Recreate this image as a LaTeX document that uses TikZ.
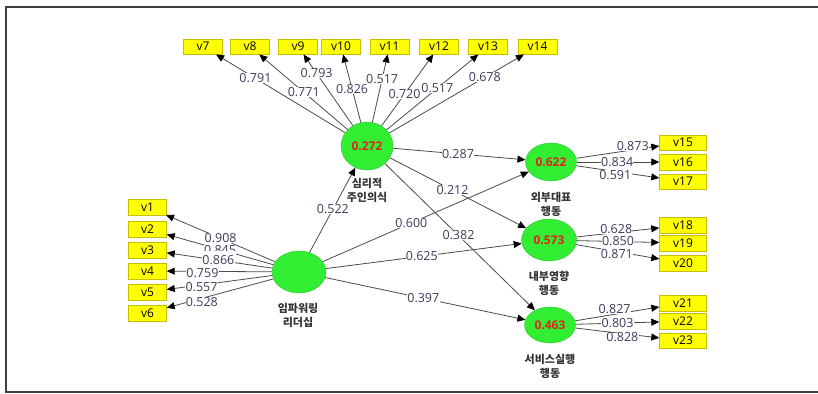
\documentclass[tikz,border=0pt]{standalone}
\usepackage{fontspec}
\setmainfont{Open Sans}
\newfontfamily\krfont{Noto Sans CJK KR}
\usetikzlibrary{arrows.meta,shapes.geometric}
\definecolor{latgreen}{RGB}{50,238,50}
\definecolor{latedge}{RGB}{40,200,40}
\definecolor{indyellow}{RGB}{255,255,0}
\definecolor{indedge}{RGB}{200,190,0}
\definecolor{wtext}{RGB}{60,60,90}
\definecolor{rtext}{RGB}{225,35,30}
\definecolor{pathgray}{RGB}{75,75,75}
\begin{document}
\begin{tikzpicture}[x=1pt, y=-1pt,
  latent/.style={ellipse, draw=latedge, fill=latgreen, inner sep=0, text=rtext, font=\bfseries\fontsize{12}{13}\selectfont},
  ind/.style={rectangle, draw=indedge, fill=indyellow, inner sep=0, minimum height=15.5, font=\fontsize{12}{13}\selectfont},
  wt/.style={fill=white, inner sep=0.3, text=wtext, font=\fontsize{12.5}{13}\selectfont},
  lname/.style={align=center, text=black!80, font=\krfont\bfseries\fontsize{11}{14}\selectfont},
  arr/.style={draw=pathgray, line width=0.8, -{Triangle[length=8,width=7,color=black]}}]
\useasboundingbox (0,0) rectangle (818,393);
\draw[line width=1.8, black!75] (818,7) -- (6,7) -- (6,392) -- (818,392);

% latent variables
\node[latent, minimum width=52, minimum height=48] (pso) at (367,146) {0.272};
\node[latent, minimum width=54, minimum height=42] (emp) at (299,272) {};
\node[latent, minimum width=51, minimum height=38] (ext) at (551,162) {0.622};
\node[latent, minimum width=55, minimum height=42] (intl) at (549,240) {0.573};
\node[latent, minimum width=51, minimum height=36] (svc) at (550,325) {0.463};

\node[lname] (psoname) at (367,190) {심리적\\주인의식};
\node[lname] (empname) at (298,315) {임파워링\\리더십};
\node[lname] (extname) at (551,204) {외부대표\\행동};
\node[lname] (intlname) at (549,283) {내부영향\\행동};
\node[lname] (svcname) at (550,366) {서비스실행\\행동};

% indicators
\foreach \i/\x in {7/203,8/250,9/298,10/341,11/389.5,12/439,13/488,14/537.5}
  \node[ind, minimum width=39] (v\i) at (\x,46.5) {v\i};
\foreach \i/\y in {1/207,2/229,3/250,4/271,5/292,6/313}
  \node[ind, minimum width=38] (v\i) at (147.5,\y) {v\i};
\foreach \i/\y in {15/142.5,16/162,17/181.5,18/225.3,19/243,20/263,21/303,22/321.3,23/340.7}
  \node[ind, minimum width=47] (v\i) at (683,\y) {v\i};

% outer loadings
\foreach \i/\p/\w in {7/0.695/0.791,8/0.498/0.771,9/0.735/0.793,10/0.49/0.826,11/0.635/0.517,12/0.444/0.720,13/0.553/0.517,14/0.71/0.678}
  \draw[arr] (pso) -- node[wt, pos=\p] {\w} (v\i);
\foreach \i/\p/\w in {1/0.50/0.908,2/0.50/0.845}
  \draw[arr] (emp) -- node[wt, pos=\p] {\w} (v\i);
\draw[arr] (emp) -- node[wt, pos=0.51, inner ysep=4.5] {0.866} (v3);
\foreach \i/\p/\w/\s in {4/0.66/0.759/-1.5,5/0.67/0.557/-2.5,6/0.67/0.528/-4}
  \draw[arr] (emp) -- node[wt, pos=\p, yshift=\s] {\w} (v\i);
\foreach \i/\p/\w/\s in {15/0.68/0.873/4,16/0.49/0.834/0,17/0.47/0.591/-3.5}
  \draw[arr] (ext) -- node[wt, pos=\p, yshift=\s] {\w} (v\i);
\foreach \i/\p/\w/\s in {18/0.48/0.628/4,19/0.50/0.850/0,20/0.49/0.871/-2}
  \draw[arr] (intl) -- node[wt, pos=\p, yshift=\s] {\w} (v\i);
\foreach \i/\p/\w/\s in {21/0.47/0.827/5,22/0.50/0.803/0,23/0.56/0.828/-4}
  \draw[arr] (svc) -- node[wt, pos=\p, yshift=\s] {\w} (v\i);

% path coefficients
\draw[arr] (emp) -- node[wt, pos=0.51] {0.522} (pso);
\draw[arr] (emp) -- node[wt, pos=0.43] {0.600} (ext);
\draw[arr] (emp) -- node[wt, pos=0.49] {0.625} (intl);
\draw[arr] (emp) -- node[wt, pos=0.49] {0.397} (svc);
\draw[arr] (pso) -- node[wt, pos=0.49] {0.287} (ext);
\draw[arr] (pso) -- node[wt, pos=0.46] {0.212} (intl);
\draw[arr] (pso) -- node[wt, pos=0.49] {0.382} (svc);
\end{tikzpicture}
\end{document}
